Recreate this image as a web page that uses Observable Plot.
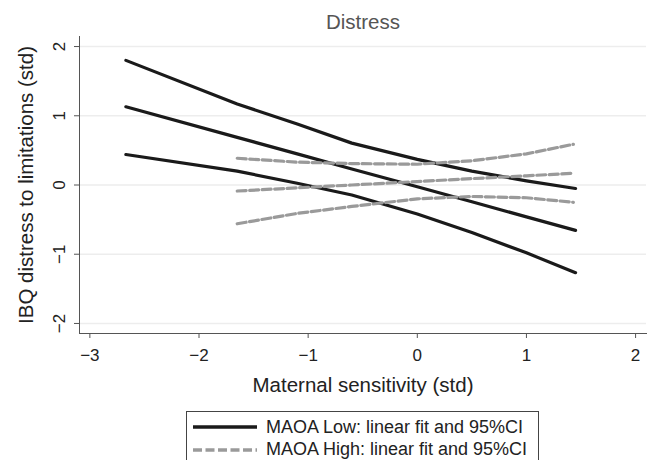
<!DOCTYPE html>
<html>
<head>
<meta charset="utf-8">
<script src="https://cdn.jsdelivr.net/npm/d3@7"></script>
<script src="https://cdn.jsdelivr.net/npm/@observablehq/plot@0.6"></script>
<style>
  body { margin: 0; background: #fff; font-family: "Liberation Sans", Arial, sans-serif; }
  #chart svg { display: block; }
  .legend { margin-left: 186px; margin-top: 7px; width: 353px; height: 60px; border: 1px solid #444; padding-top: 4px; box-sizing: border-box; }
  .row { display: flex; align-items: center; height: 22.5px; font-size: 18px; color: #222; }
  .row svg { margin-left: 6px; margin-right: 9px; }
</style>
</head>
<body>
<div id="chart"></div>
<div class="legend" id="legend"></div>
<script>
const title = "Distress";
const xLabel = "Maternal sensitivity (std)";
const yLabel = "IBQ distress to limitations (std)";
const xTicks = [-3, -2, -1, 0, 1, 2];
const xTickLabels = ["\u22123", "\u22122", "\u22121", "0", "1", "2"];
const yTicks = [-2, -1, 0, 1, 2];
const yTickLabels = ["\u22122", "\u22121", "0", "1", "2"];

const seriesNames = ["MAOA Low: linear fit and 95%CI", "MAOA High: linear fit and 95%CI"];

const lowX     = [-2.67, -1.65, -1.1, -0.6, 0, 0.5, 1.0, 1.45];
const lowFit   = [1.13, 0.688, 0.45, 0.23, -0.026, -0.243, -0.46, -0.655];
const lowUpper = [1.80, 1.17, 0.88, 0.605, 0.37, 0.20, 0.06, -0.05];
const lowLower = [0.44, 0.20, 0.025, -0.145, -0.42, -0.686, -0.98, -1.267];

const highX     = [-1.65, -1.1, -0.6, 0, 0.5, 1.0, 1.43];
const highFit   = [-0.087, -0.041, 0.0, 0.05, 0.092, 0.133, 0.169];
const highUpper = [0.386, 0.33, 0.31, 0.30, 0.35, 0.45, 0.588];
const highLower = [-0.56, -0.41, -0.31, -0.20, -0.166, -0.184, -0.25];

function rows(xs, ys, group) { return xs.map((x, i) => ({x, y: ys[i], group})); }
const lowData = [...rows(lowX, lowFit, "fit"), ...rows(lowX, lowUpper, "up"), ...rows(lowX, lowLower, "lo")];
const highData = [...rows(highX, highFit, "fit"), ...rows(highX, highUpper, "up"), ...rows(highX, highLower, "lo")];

const black = "#1a1a1a", gray = "#9a9a9a";
const yTickData = yTicks.map((v, i) => ({v, t: yTickLabels[i]}));

const plot = Plot.plot({
  width: 652,
  height: 404,
  marginLeft: 79,
  marginRight: 6,
  marginTop: 36,
  marginBottom: 71,
  style: {fontFamily: "'Liberation Sans', Arial, sans-serif", background: "#fff"},
  x: {domain: [-3.095, 2.1]},
  y: {domain: [-2.145, 2.145]},
  marks: [
    Plot.gridY(yTicks, {stroke: "#ededed", strokeOpacity: 1, strokeWidth: 1.5}),
    Plot.frame({anchor: "left", stroke: "#555"}),
    Plot.frame({anchor: "bottom", stroke: "#555"}),
    Plot.axisX({ticks: xTicks, tickFormat: (d) => xTickLabels[xTicks.indexOf(d)], tickSize: 5, tickPadding: 10, fontSize: 17, stroke: "#555", color: "#222", label: null}),
    Plot.axisY({ticks: yTicks, tickSize: 5, tickFormat: () => "", stroke: "#555", label: null}),
    Plot.text(yTickData, {y: "v", text: "t", frameAnchor: "left", dx: -20, rotate: -90, fontSize: 17, fill: "#222", lineAnchor: "middle", textAnchor: "middle"}),
    Plot.line(lowData, {x: "x", y: "y", z: "group", stroke: black, strokeWidth: 3.2}),
    Plot.line(highData, {x: "x", y: "y", z: "group", stroke: gray, strokeWidth: 3.2, strokeDasharray: "9,3.5"}),
    Plot.text([title], {frameAnchor: "top", dy: -14, fontSize: 20.5, fill: "#555", lineAnchor: "middle", textAnchor: "middle"}),
    Plot.text([xLabel], {frameAnchor: "bottom", dy: 52, fontSize: 20.5, fill: "#222", lineAnchor: "middle", textAnchor: "middle"}),
    Plot.text([yLabel], {frameAnchor: "left", dx: -53, rotate: -90, fontSize: 20.5, fill: "#222", lineAnchor: "middle", textAnchor: "middle"})
  ]
});
document.getElementById("chart").appendChild(plot);

const legend = document.getElementById("legend");
const styles = [{stroke: black, dash: null}, {stroke: gray, dash: "9,3.5"}];
seriesNames.forEach((name, i) => {
  const row = document.createElement("div");
  row.className = "row";
  const s = styles[i];
  row.innerHTML = `<svg width="64" height="8"><line x1="0" y1="4" x2="64" y2="4" stroke="${s.stroke}" stroke-width="3.5"${s.dash ? ` stroke-dasharray="${s.dash}"` : ""}/></svg><span>${name}</span>`;
  legend.appendChild(row);
});
</script>
</body>
</html>
